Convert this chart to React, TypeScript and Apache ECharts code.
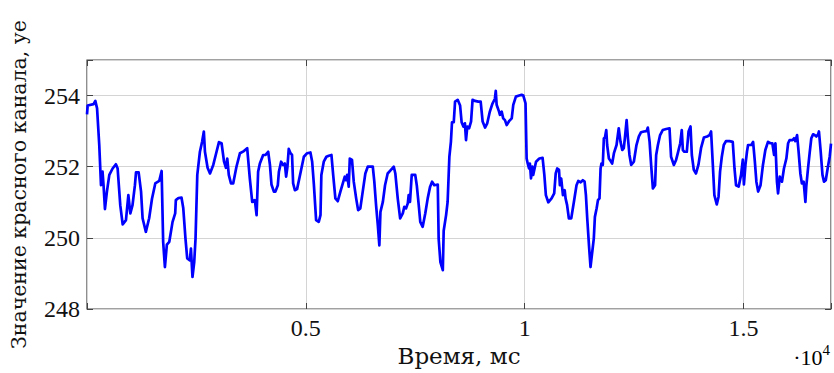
import React, { useEffect, useRef } from "react";
import * as echarts from "echarts";

const timeMs: number[] = [
  0, 15, 150, 190, 230, 280, 320, 355, 380, 410, 455, 510, 585, 660, 700, 760, 815, 890, 945, 990,
  1040, 1095, 1120, 1180, 1235, 1270, 1345, 1420, 1485, 1560, 1650, 1705, 1740, 1780, 1825, 1880, 1955, 2015, 2030, 2090,
  2160, 2200, 2250, 2290, 2350, 2375, 2410, 2450, 2480, 2520, 2580, 2630, 2670, 2695, 2755, 2810, 2885, 2960, 3015, 3075,
  3130, 3175, 3205, 3240, 3290, 3340, 3415, 3495, 3585, 3660, 3720, 3775, 3835, 3875, 3910, 3950, 4025, 4080, 4140, 4180,
  4215, 4270, 4305, 4360, 4385, 4435, 4480, 4520, 4550, 4580, 4610, 4650, 4685, 4710, 4750, 4800, 4875, 4955, 5030, 5105,
  5145, 5185, 5235, 5295, 5335, 5355, 5410, 5470, 5525, 5585, 5625, 5675, 5730, 5790, 5845, 5890, 5920, 5945, 5980, 6005,
  6055, 6095, 6150, 6195, 6245, 6300, 6360, 6415, 6440, 6530, 6565, 6605, 6645, 6680, 6705, 6760, 6810, 6870, 6945, 7010,
  7045, 7100, 7155, 7215, 7250, 7290, 7330, 7350, 7380, 7420, 7500, 7535, 7580, 7615, 7670, 7730, 7785, 7840, 7885, 7935,
  8015, 8035, 8075, 8130, 8150, 8205, 8240, 8280, 8315, 8340, 8380, 8410, 8470, 8525, 8560, 8600, 8635, 8660, 8690, 8730,
  8775, 8810, 8865, 8940, 8995, 9040, 9095, 9145, 9205, 9260, 9320, 9340, 9360, 9415, 9435, 9475, 9510, 9550, 9590, 9650,
  9705, 9740, 9800, 9875, 9930, 9970, 10020, 10045, 10070, 10100, 10120, 10145, 10175, 10195, 10260, 10335, 10410, 10450, 10485, 10540,
  10615, 10675, 10710, 10745, 10785, 10805, 10835, 10875, 10915, 10935, 10970, 11010, 11065, 11125, 11185, 11225, 11280, 11330, 11370, 11400,
  11430, 11470, 11505, 11545, 11580, 11605, 11645, 11675, 11710, 11735, 11755, 11785, 11810, 11835, 11865, 11885, 11925, 11965, 12000, 12040,
  12100, 12150, 12190, 12230, 12265, 12290, 12330, 12360, 12395, 12435, 12495, 12555, 12610, 12660, 12725, 12785, 12815, 12855, 12890, 12930,
  12980, 13005, 13045, 13095, 13155, 13235, 13310, 13345, 13410, 13460, 13500, 13555, 13590, 13615, 13650, 13705, 13745, 13790, 13820, 13865,
  13915, 13970, 14030, 14095, 14170, 14225, 14260, 14300, 14335, 14390, 14430, 14465, 14505, 14550, 14600, 14680, 14755, 14795, 14830, 14890,
  14945, 14985, 15010, 15045, 15080, 15105, 15180, 15220, 15260, 15295, 15335, 15390, 15445, 15500, 15560, 15615, 15660, 15700, 15730, 15765,
  15790, 15830, 15880, 15925, 15980, 16020, 16055, 16120, 16155, 16185, 16225, 16260, 16300, 16335, 16375, 16415, 16435, 16475, 16515, 16550,
  16590, 16625, 16665, 16705, 16725, 16765, 16805, 16840, 16880, 16930, 16970, 17000,
];

const redValue: number[] = [
  253.47, 253.72, 253.76, 253.85, 253.64, 252.61, 251.48, 251.86, 251.44, 250.81, 251.3, 251.77, 251.95, 252.07, 251.95, 250.92, 250.38, 250.5, 251.2, 250.69,
  250.92, 251.48, 251.84, 251.84, 251.3, 250.55, 250.17, 250.55, 251.1, 251.53, 251.6, 251.88, 249.89, 249.18, 249.81, 249.89, 250.45, 250.69, 251.06, 251.12,
  251.13, 250.83, 249.98, 249.42, 249.37, 249.7, 248.9, 249.32, 249.98, 251.77, 252.42, 252.7, 252.99, 252.42, 251.97, 251.81, 252.05, 252.42, 252.69, 252.66,
  252.15, 251.97, 252.23, 251.77, 251.53, 251.53, 252.0, 252.38, 252.44, 252.52, 251.67, 251.01, 251.06, 250.64, 251.86, 252.09, 252.33, 252.33, 252.42, 252.05,
  251.5, 251.3, 251.3, 251.48, 251.86, 252.14, 252.05, 252.09, 251.72, 252.0, 252.5, 252.38, 252.33, 251.53, 251.34, 251.37, 251.81, 252.28, 252.38, 252.4,
  252.14, 251.48, 250.5, 250.45, 250.64, 251.77, 252.14, 252.28, 252.31, 252.33, 251.77, 251.11, 251.03, 251.3, 251.53, 251.72, 251.62, 251.77, 251.44, 252.23,
  252.19, 251.58, 251.11, 250.78, 250.83, 251.3, 251.81, 252.0, 252.0, 252.0, 251.58, 250.92, 250.36, 249.79, 250.73, 251.01, 251.48, 251.81, 251.91, 252.0,
  251.81, 251.11, 250.55, 250.69, 250.87, 250.83, 250.97, 251.2, 251.01, 251.77, 251.77, 251.48, 250.92, 250.45, 250.31, 250.69, 251.11, 251.44, 251.58, 251.48,
  251.5, 249.98, 249.32, 249.09, 250.2, 250.64, 251.01, 252.28, 252.7, 253.25, 253.25, 253.83, 253.88, 253.72, 253.25, 253.13, 253.22, 252.75, 253.13, 253.08,
  253.27, 253.88, 253.85, 253.83, 253.83, 253.27, 253.1, 253.22, 253.55, 253.76, 253.91, 254.13, 253.74, 253.55, 253.46, 253.55, 253.36, 253.31, 253.17, 253.29,
  253.36, 253.74, 253.97, 254.0, 254.02, 254.0, 253.78, 252.23, 252.09, 251.95, 252.09, 251.67, 252.0, 251.77, 252.14, 252.23, 252.25, 251.77, 251.2, 251.0,
  251.11, 251.25, 251.81, 251.95, 251.91, 251.48, 251.67, 251.2, 251.34, 251.11, 250.92, 250.55, 250.55, 251.01, 251.48, 251.6, 251.56, 251.62, 251.58, 251.2,
  250.55, 249.79, 249.18, 249.61, 249.98, 250.59, 250.83, 251.06, 251.11, 251.95, 252.09, 252.05, 252.8, 252.82, 253.03, 252.61, 252.23, 252.16, 252.09, 252.38,
  252.61, 253.08, 252.7, 252.47, 252.52, 252.8, 253.31, 252.8, 252.33, 252.05, 252.14, 252.61, 252.85, 252.97, 252.99, 253.0, 253.1, 252.7, 252.05, 251.39,
  251.48, 252.33, 252.61, 252.89, 253.03, 253.06, 253.08, 252.28, 252.05, 252.19, 252.38, 252.66, 253.03, 252.47, 252.42, 252.42, 252.99, 253.13, 252.33, 251.91,
  251.81, 252.05, 252.52, 252.82, 252.85, 252.89, 252.99, 252.05, 251.2, 250.94, 251.15, 251.86, 252.28, 252.61, 252.72, 252.72, 252.7, 251.95, 251.48, 251.44,
  251.77, 252.2, 251.5, 252.05, 252.42, 252.61, 252.61, 252.7, 252.14, 251.58, 251.3, 251.48, 252.05, 252.47, 252.7, 252.66, 252.66, 252.33, 252.66, 251.58,
  251.25, 251.72, 251.58, 251.95, 252.23, 252.66, 252.75, 252.75, 252.8, 252.72, 252.89, 252.42, 251.81, 251.53, 251.58, 251.01, 251.44, 251.95, 252.42, 252.8,
  252.91, 252.89, 252.85, 252.91, 252.99, 252.42, 251.77, 251.58, 251.62, 252.0, 252.28, 252.65,
];

const xTickValues: number[] = [5000, 10000, 15000];
const yTickValues: number[] = [248, 250, 252, 254];

const TICK_FONT = "Liberation Serif";
const NAME_FONT = "DejaVu Serif";
const FRAME = "#444444";
const GRID = "#d4d4d4";

export default function App() {
  const ref = useRef<HTMLDivElement>(null);
  useEffect(() => {
    if (!ref.current) return;
    const chart = echarts.init(ref.current, undefined, { renderer: "svg" });
    const data = timeMs.map((t, i) => [t, redValue[i]]);
    const tickOnly = {
      axisLine: { show: false, onZero: false },
      axisTick: { show: true, inside: true, length: 6, lineStyle: { color: FRAME, width: 1 } },
    };
    chart.setOption({
      animation: false,
      textStyle: { fontFamily: TICK_FONT },
      grid: { left: 87, right: 2, top: 60, bottom: 64, show: true, borderColor: FRAME, borderWidth: 1.2, backgroundColor: "transparent" },
      xAxis: [
        {
          type: "value",
          min: 0,
          max: 17000,
          interval: 5000,
          position: "bottom",
          ...tickOnly,
          splitLine: { show: true, lineStyle: { color: GRID, width: 1 } },
          axisLabel: {
            fontFamily: TICK_FONT,
            fontSize: 24,
            color: "#111",
            margin: 7,
            formatter: (v: number) => (xTickValues.includes(v) ? String(v / 10000) : ""),
          },
          name: "Время, мс",
          nameLocation: "middle",
          nameGap: 34,
          nameTextStyle: { fontFamily: NAME_FONT, fontSize: 23, color: "#111" },
        },
        {
          type: "value",
          min: 0,
          max: 17000,
          interval: 5000,
          position: "top",
          ...tickOnly,
          splitLine: { show: false },
          axisLabel: { show: false },
        },
      ],
      yAxis: [
        {
          type: "value",
          min: 248,
          max: 255,
          interval: 2,
          position: "left",
          ...tickOnly,
          splitLine: { show: true, lineStyle: { color: GRID, width: 1 } },
          axisLabel: {
            fontFamily: TICK_FONT,
            fontSize: 24,
            color: "#111",
            margin: 7,
            formatter: (v: number) => (yTickValues.includes(v) ? String(v) : ""),
          },
          name: "Значение красного канала, уе",
          nameLocation: "middle",
          nameGap: 58,
          nameTextStyle: { fontFamily: NAME_FONT, fontSize: 20.5, color: "#111" },
        },
        {
          type: "value",
          min: 248,
          max: 255,
          interval: 2,
          position: "right",
          ...tickOnly,
          splitLine: { show: false },
          axisLabel: { show: false },
        },
      ],
      graphic: [
        {
          type: "text",
          right: 4,
          top: 342,
          style: {
            text: "{a|·10}{b|4}",
            rich: {
              a: { fontFamily: TICK_FONT, fontSize: 22, color: "#111", verticalAlign: "bottom" },
              b: { fontFamily: TICK_FONT, fontSize: 15, color: "#111", verticalAlign: "top", padding: [0, 0, 11, 0] },
            },
          },
        },
      ],
      series: [
        {
          type: "line",
          xAxisIndex: 0,
          yAxisIndex: 0,
          data,
          showSymbol: false,
          symbol: "none",
          clip: true,
          lineStyle: { color: "#0000ff", width: 2.7, join: "round" },
        },
      ],
    });
    return () => chart.dispose();
  }, []);
  return (
    <div
      ref={ref}
      style={{ position: "fixed", left: 0, top: 0, width: 834, height: 373, background: "#fff" }}
    />
  );
}
